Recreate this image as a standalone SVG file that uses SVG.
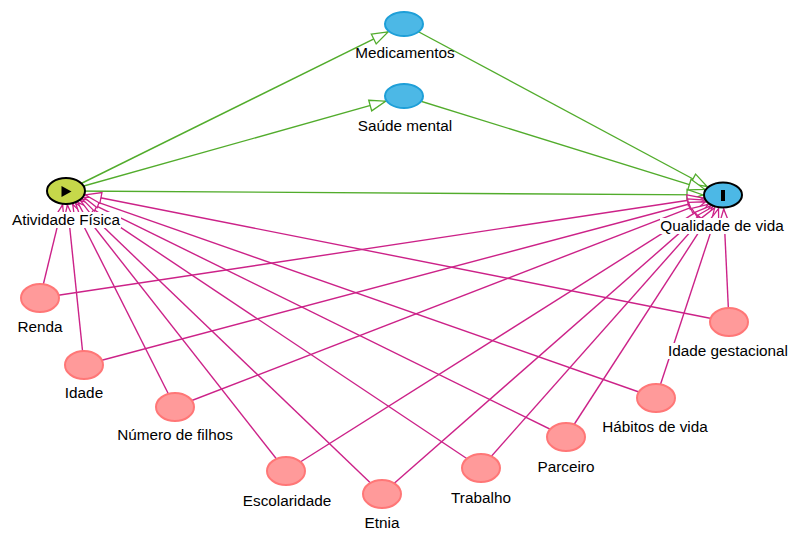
<svg xmlns="http://www.w3.org/2000/svg" width="791" height="534" viewBox="0 0 791 534">
<defs>
<style>
.bg{fill:#ffffff}
.g{stroke:#52ac2c;stroke-width:1.4;fill:none;marker-end:url(#ag)}
.p{stroke:#cc2288;stroke-width:1.4;fill:none;marker-end:url(#ap)}
.adj{fill:#ff9a9a;stroke:#ff7777;stroke-width:2}
.med{fill:#4cb8e6;stroke:#1e9fd8;stroke-width:2}
.exp{fill:#c6d84a;stroke:#000;stroke-width:2}
.out{fill:#4cb8e6;stroke:#000;stroke-width:2}
.lbl{font-family:"Liberation Sans",Arial,sans-serif;font-size:15.3px;fill:#000;text-anchor:middle}
.lb{fill:#fff}
</style>
<marker id="ag" viewBox="-1 -1 18 13" refX="16" refY="5.5" markerWidth="18" markerHeight="13" markerUnits="userSpaceOnUse" orient="auto" overflow="visible"><path d="M0,0 L16,5.5 L0,11 Z" fill="#fff" stroke="#52ac2c" stroke-width="1.3"/></marker>
<marker id="ap" viewBox="-1 -1 18 13" refX="16" refY="5.5" markerWidth="18" markerHeight="13" markerUnits="userSpaceOnUse" orient="auto" overflow="visible"><path d="M0,0 L16,5.5 L0,11 Z" fill="#fff" stroke="#cc2288" stroke-width="1.3"/></marker>
</defs>
<rect class="bg" x="0" y="0" width="791" height="534"/>
<g id="edges">
<line class="g" x1="66" y1="191" x2="388.1" y2="31.9"/>
<line class="g" x1="66" y1="191" x2="385.6" y2="101.2"/>
<line class="g" x1="66" y1="191" x2="703" y2="194.9"/>
<line class="g" x1="404" y1="24" x2="707.1" y2="186.5"/>
<line class="g" x1="404" y1="96" x2="704.7" y2="189.3"/>
<line class="p" x1="40" y1="298" x2="62.6" y2="204.8"/>
<line class="p" x1="84" y1="365" x2="67.4" y2="205"/>
<line class="p" x1="175" y1="407" x2="72.7" y2="204.2"/>
<line class="p" x1="286" y1="471" x2="75.6" y2="203.3"/>
<line class="p" x1="382" y1="494" x2="77.8" y2="202.3"/>
<line class="p" x1="481" y1="468" x2="80.5" y2="200.7"/>
<line class="p" x1="566" y1="437" x2="82.4" y2="199.1"/>
<line class="p" x1="656" y1="398" x2="83.9" y2="197.3"/>
<line class="p" x1="729" y1="322" x2="85.2" y2="194.8"/>
<line class="p" x1="40" y1="298" x2="703.4" y2="198"/>
<line class="p" x1="84" y1="365" x2="704.3" y2="200"/>
<line class="p" x1="175" y1="407" x2="705.5" y2="201.8"/>
<line class="p" x1="286" y1="471" x2="708.2" y2="204.4"/>
<line class="p" x1="382" y1="494" x2="710.5" y2="205.9"/>
<line class="p" x1="481" y1="468" x2="712.5" y2="206.9"/>
<line class="p" x1="566" y1="437" x2="714.7" y2="207.7"/>
<line class="p" x1="656" y1="398" x2="718.5" y2="208.6"/>
<line class="p" x1="729" y1="322" x2="723.7" y2="209"/>
</g>
<g id="node-atividade-fisica">
<ellipse class="exp" cx="66" cy="191" rx="19" ry="13"/>
<path d="M61.5,186 L71.5,191.5 L61.5,197 Z" fill="#000"/>
<rect class="lb" x="11" y="212" width="110" height="16"/>
<text class="lbl" x="66" y="225">Atividade Física</text>
</g>
<g id="node-qualidade-de-vida">
<ellipse class="out" cx="723" cy="195" rx="19" ry="12.5"/>
<rect x="721" y="190" width="4" height="11" fill="#000"/>
<rect class="lb" x="660" y="218" width="125" height="16"/>
<text class="lbl" x="722" y="231">Qualidade de vida</text>
</g>
<g id="node-medicamentos">
<ellipse class="med" cx="404" cy="24" rx="19" ry="12"/>
<text class="lbl" x="405" y="58">Medicamentos</text>
</g>
<g id="node-saude-mental">
<ellipse class="med" cx="404" cy="96" rx="19" ry="12"/>
<text class="lbl" x="405" y="131">Saúde mental</text>
</g>
<g id="node-renda">
<ellipse class="adj" cx="40" cy="298" rx="19" ry="14"/>
<rect class="lb" x="17" y="319" width="46" height="16"/>
<text class="lbl" x="40" y="332">Renda</text>
</g>
<g id="node-idade">
<ellipse class="adj" cx="84" cy="365" rx="19" ry="14"/>
<rect class="lb" x="64" y="385" width="40" height="16"/>
<text class="lbl" x="84" y="398">Idade</text>
</g>
<g id="node-numero-de-filhos">
<ellipse class="adj" cx="175" cy="407" rx="19" ry="14"/>
<rect class="lb" x="117" y="427" width="117" height="16"/>
<text class="lbl" x="175" y="440">Número de filhos</text>
</g>
<g id="node-escolaridade">
<ellipse class="adj" cx="286" cy="471" rx="19" ry="14"/>
<rect class="lb" x="242" y="493" width="90" height="16"/>
<text class="lbl" x="287" y="506">Escolaridade</text>
</g>
<g id="node-etnia">
<ellipse class="adj" cx="382" cy="494" rx="19" ry="14"/>
<rect class="lb" x="364" y="515" width="36" height="16"/>
<text class="lbl" x="382" y="528">Etnia</text>
</g>
<g id="node-trabalho">
<ellipse class="adj" cx="481" cy="468" rx="19" ry="14"/>
<rect class="lb" x="450" y="490" width="62" height="16"/>
<text class="lbl" x="481" y="503">Trabalho</text>
</g>
<g id="node-parceiro">
<ellipse class="adj" cx="566" cy="437" rx="19" ry="14"/>
<rect class="lb" x="537" y="459" width="58" height="16"/>
<text class="lbl" x="566" y="472">Parceiro</text>
</g>
<g id="node-habitos-de-vida">
<ellipse class="adj" cx="656" cy="398" rx="19" ry="14"/>
<rect class="lb" x="602" y="419" width="107" height="16"/>
<text class="lbl" x="655" y="432">Hábitos de vida</text>
</g>
<g id="node-idade-gestacional">
<ellipse class="adj" cx="729" cy="322" rx="19" ry="14"/>
<rect class="lb" x="667" y="343" width="122" height="16"/>
<text class="lbl" x="728" y="356">Idade gestacional</text>
</g>
</svg>
